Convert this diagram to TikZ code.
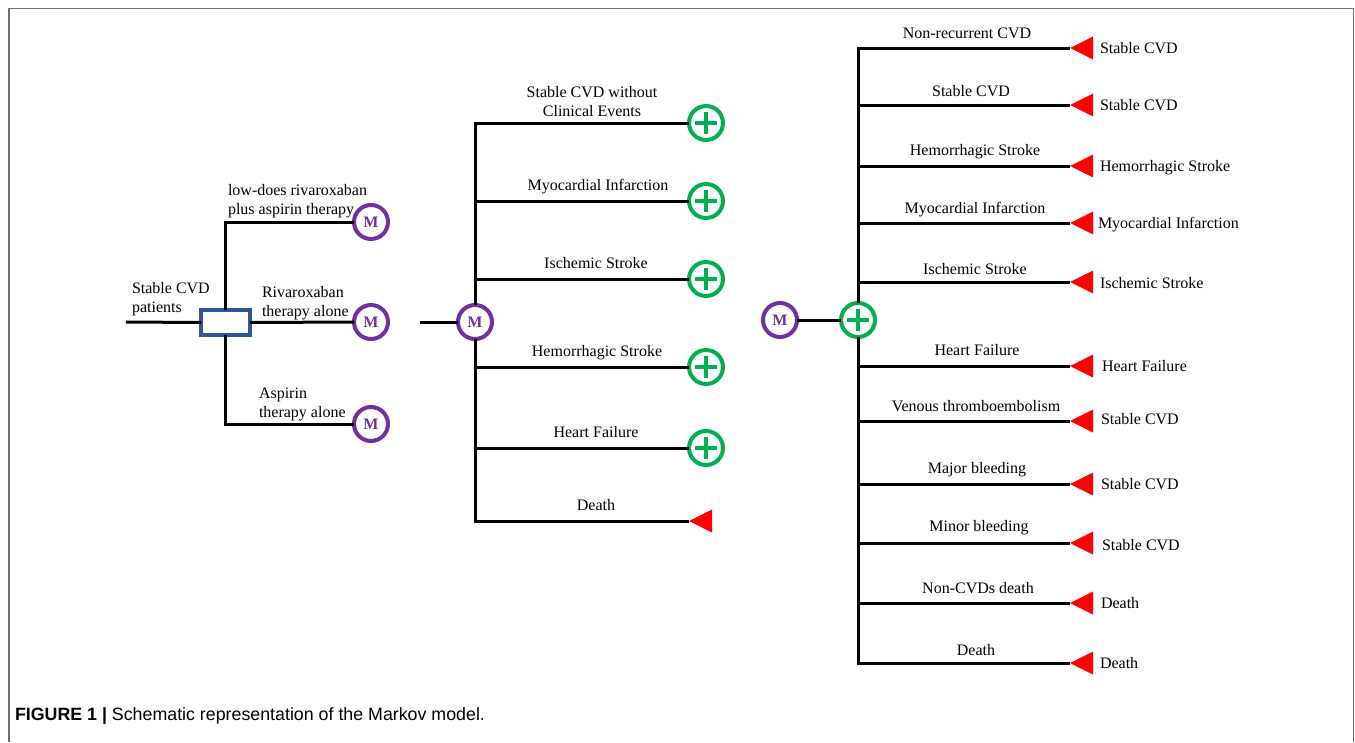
\documentclass[tikz,border=0pt]{standalone}
\usepackage{fontspec}
\setmainfont{Liberation Serif}
\setsansfont{Liberation Sans}
\usetikzlibrary{shapes.geometric}
\definecolor{mpurple}{HTML}{7030A0}
\definecolor{cgreen}{HTML}{00B050}
\definecolor{dblue}{HTML}{2F5597}
\definecolor{framegray}{HTML}{707070}

\begin{document}
\begin{tikzpicture}[x=1pt,y=-1pt]
\tikzstyle{every node}+=[inner sep=0pt,outer sep=0pt]
\tikzstyle{branch}=[black,line width=3pt]
\tikzstyle{mnode}=[circle,draw=mpurple,line width=4pt,minimum size=34pt,text=mpurple,font=\fontsize{16}{16}\selectfont\bfseries]
\tikzstyle{chance}=[circle,draw=cgreen,line width=4pt,minimum size=34pt,path picture={\draw[cgreen,line width=3.5pt] (path picture bounding box.center) +(-11,0) -- +(11,0) +(0,-11) -- +(0,11);}]
\tikzstyle{term}=[isosceles triangle,shape border rotate=180,isosceles triangle stretches,fill=red,minimum width=23pt,minimum height=23pt]
\tikzstyle{decbox}=[rectangle,draw=dblue,line width=4pt,minimum width=49pt,minimum height=25pt]
\tikzstyle{lbl}=[font=\fontsize{16}{19}\selectfont]
\useasboundingbox (0,0) rectangle (1355,742);
\draw [framegray,line width=1.5pt] (9,742) -- (9,8.5) -- (1353.5,8.5) -- (1353.5,742);

% decision part
\coordinate (start) at (126,322);
\node [decbox] (dec) at (225.5,322.5) {};
\draw [branch] (start) -- (dec.west);
\node [mnode] (m1) at (371,222) {M};
\node [mnode] (m2) at (371,322) {M};
\node [mnode] (m3) at (371,424) {M};
\draw [branch] (dec.north) |- (m1.west);
\draw [branch] (dec.east) -- (m2.west);
\draw [branch] (dec.south) |- (m3.west);
\node [lbl,align=left,anchor=base west] (pat) at (132,312) {Stable CVD\\patients};
\node [lbl,align=left,anchor=base west] (arm1) at (228,214) {low-does rivaroxaban\\plus aspirin therapy};
\node [lbl,align=left,anchor=base west] (arm2) at (262,316) {Rivaroxaban\\therapy alone};
\node [lbl,align=left,anchor=base west] (arm3) at (259,417) {Aspirin\\therapy alone};

% markov states
\coordinate (min) at (420,322);
\node [mnode] (mc) at (475,322) {M};
\draw [branch] (min) -- (mc.west);
\node [chance] (c1) at (706,123) {};
\node [chance] (c2) at (706,201) {};
\node [chance] (c3) at (706,279) {};
\node [chance] (c4) at (706,367) {};
\node [chance] (c5) at (706,448) {};
\node [term,anchor=apex] (d1) at (689,521) {};
\draw [branch] (mc.north) |- (c1.west);
\draw [branch] (mc.north) |- (c2.west);
\draw [branch] (mc.north) |- (c3.west);
\draw [branch] (mc.south) |- (c4.west);
\draw [branch] (mc.south) |- (c5.west);
\draw [branch] (mc.south) |- (d1.apex);
\node [lbl,align=center,anchor=base] (s1) at (592,116) {Stable CVD without\\Clinical Events};
\node [lbl,anchor=base] (s2) at (598,190) {Myocardial Infarction};
\node [lbl,anchor=base] (s3) at (596,268) {Ischemic Stroke};
\node [lbl,anchor=base] (s4) at (597,356) {Hemorrhagic Stroke};
\node [lbl,anchor=base] (s5) at (596,437) {Heart Failure};
\node [lbl,anchor=base] (s6) at (596,510) {Death};

% transitions
\node [mnode] (mr) at (780,320) {M};
\node [chance] (cr) at (858,320) {};
\draw [branch] (mr) -- (cr);
\node [term,anchor=apex] (t1) at (1070,48) {};
\node [term,anchor=apex] (t2) at (1070,105) {};
\node [term,anchor=apex] (t3) at (1070,166) {};
\node [term,anchor=apex] (t4) at (1070,223) {};
\node [term,anchor=apex] (t5) at (1070,282) {};
\node [term,anchor=apex] (t6) at (1070,366) {};
\node [term,anchor=apex] (t7) at (1070,421) {};
\node [term,anchor=apex] (t8) at (1070,484) {};
\node [term,anchor=apex] (t9) at (1070,543) {};
\node [term,anchor=apex] (t10) at (1070,603) {};
\node [term,anchor=apex] (t11) at (1070,663) {};
\draw [branch] (cr.north) |- (t1.apex);
\draw [branch] (cr.north) |- (t2.apex);
\draw [branch] (cr.north) |- (t3.apex);
\draw [branch] (cr.north) |- (t4.apex);
\draw [branch] (cr.north) |- (t5.apex);
\draw [branch] (cr.south) |- (t6.apex);
\draw [branch] (cr.south) |- (t7.apex);
\draw [branch] (cr.south) |- (t8.apex);
\draw [branch] (cr.south) |- (t9.apex);
\draw [branch] (cr.south) |- (t10.apex);
\draw [branch] (cr.south) |- (t11.apex);
\node [lbl,anchor=base] (e1) at (967,38) {Non-recurrent CVD};
\node [lbl,anchor=base] (e2) at (971,96) {Stable CVD};
\node [lbl,anchor=base] (e3) at (975,155) {Hemorrhagic Stroke};
\node [lbl,anchor=base] (e4) at (975,213) {Myocardial Infarction};
\node [lbl,anchor=base] (e5) at (975,274) {Ischemic Stroke};
\node [lbl,anchor=base] (e6) at (977,355) {Heart Failure};
\node [lbl,anchor=base] (e7) at (976,411) {Venous thromboembolism};
\node [lbl,anchor=base] (e8) at (977,473) {Major bleeding};
\node [lbl,anchor=base] (e9) at (979,531) {Minor bleeding};
\node [lbl,anchor=base] (e10) at (978,593) {Non-CVDs death};
\node [lbl,anchor=base] (e11) at (976,655) {Death};
\node [lbl,anchor=base west] (r1) at (1100,53) {Stable CVD};
\node [lbl,anchor=base west] (r2) at (1100,110) {Stable CVD};
\node [lbl,anchor=base west] (r3) at (1100,171) {Hemorrhagic Stroke};
\node [lbl,anchor=base west] (r4) at (1098,228) {Myocardial Infarction};
\node [lbl,anchor=base west] (r5) at (1100,288) {Ischemic Stroke};
\node [lbl,anchor=base west] (r6) at (1102,371) {Heart Failure};
\node [lbl,anchor=base west] (r7) at (1101,424) {Stable CVD};
\node [lbl,anchor=base west] (r8) at (1101,489) {Stable CVD};
\node [lbl,anchor=base west] (r9) at (1102,550) {Stable CVD};
\node [lbl,anchor=base west] (r10) at (1101,608) {Death};
\node [lbl,anchor=base west] (r11) at (1100,668) {Death};

\node [anchor=base west,font=\sffamily\fontsize{17.8}{17.8}\selectfont] (cap) at (15,720) {\textbf{FIGURE 1 |} Schematic representation of the Markov model.};
\end{tikzpicture}
\end{document}
